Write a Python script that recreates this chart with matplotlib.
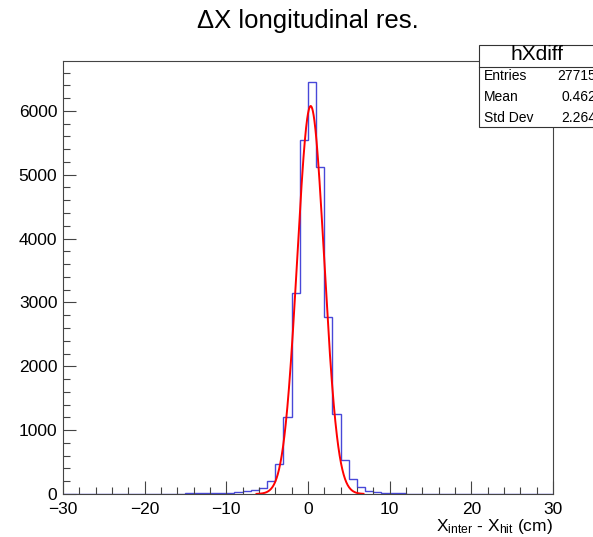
import numpy as np
import matplotlib
matplotlib.use("Agg")
import matplotlib.pyplot as plt
from matplotlib.ticker import MultipleLocator

plt.rcParams['font.family'] = ['Liberation Sans', 'DejaVu Sans']
plt.rcParams['mathtext.default'] = 'regular'

# histogram hXdiff: 60 bins of 1 cm from -30 to 30
edges = np.arange(-30, 31, 1)
counts = [0]*13 + [3, 4, 8, 9, 10, 12, 18, 22, 25, 45, 67, 95, 205, 465, 1210, 3145, 5540,
                   6455, 5115, 2770, 1250, 530, 230, 115, 52, 28, 22, 14, 12, 6, 5, 4, 3, 3] + [0]*13

# gaussian fit
fit_amp = 6076
fit_mean = 0.33
fit_sigma = 1.65
fit_lo, fit_hi = -6.3, 6.8

stats_names = ["Entries", "Mean", "Std Dev"]
stats_vals = ["27715", "0.462", "2.264"]

fig = plt.figure(figsize=(5.93, 5.37), dpi=100)
ax = fig.add_axes([0.1062, 0.0801, 0.8263, 0.8063])

ax.stairs(counts, edges, color="#4848d8", lw=1.0)
xf = np.linspace(fit_lo, fit_hi, 400)
ax.plot(xf, fit_amp*np.exp(-0.5*((xf - fit_mean)/fit_sigma)**2), color="red", lw=1.4)

ax.set_xlim(-30, 30)
ax.set_ylim(0, 6781)
ax.xaxis.set_major_locator(MultipleLocator(10))
ax.xaxis.set_minor_locator(MultipleLocator(2))
ax.yaxis.set_major_locator(MultipleLocator(1000))
ax.yaxis.set_minor_locator(MultipleLocator(200))
ax.tick_params(which="both", direction="in", top=False, right=False, labelsize=12.5,
               color="#444444", width=0.8)
ax.tick_params(which="major", length=9.5, pad=4)
ax.tick_params(axis="x", which="major", pad=6)
ax.tick_params(which="minor", length=4.7)
for s in ax.spines.values():
    s.set_color("#444444")
    s.set_linewidth(0.8)

ax.set_xlabel("X$_{inter}$ - X$_{hit}$ (cm)", fontsize=12.5, loc="right", labelpad=0)

fig.text(0.52, 1 - 21/537, "ΔX longitudinal res.", ha="center", va="center", fontsize=18.5)

# stats box
W, H = 593, 537
bx0, by0, bx1, by1 = 479, 45, 600, 127
fig.patches.append(plt.Rectangle((bx0/W, 1 - by1/H), (bx1 - bx0)/W, (by1 - by0)/H,
                                 transform=fig.transFigure, facecolor="white",
                                 edgecolor="#333333", lw=0.8, zorder=5))
fig.lines.append(plt.Line2D([bx0/W, bx1/W], [1 - 66.5/H, 1 - 66.5/H],
                            transform=fig.transFigure, color="#333333", lw=0.8, zorder=6))
fig.text((bx0 + 58)/W, 1 - 55/H, "hXdiff", ha="center", va="center", fontsize=15, zorder=7)
for i, (n, v) in enumerate(zip(stats_names, stats_vals)):
    y = 1 - (76 + i*21)/H
    fig.text((bx0 + 5)/W, y, n, ha="left", va="center", fontsize=10, zorder=7)
    fig.text(596/W, y, v, ha="right", va="center", fontsize=10, zorder=7)

fig.savefig("out.png", dpi=100)
